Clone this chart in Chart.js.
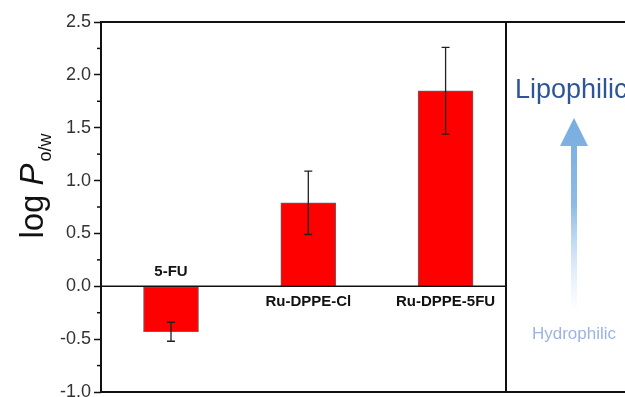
<!DOCTYPE html>
<html><head><meta charset="utf-8">
<script src="https://cdn.jsdelivr.net/npm/chart.js@4/dist/chart.umd.min.js"></script>
<style>html,body{margin:0;padding:0;background:#fff;}#wrap{width:625px;height:397px;position:relative;}</style>
</head><body><div id="wrap"><canvas id="c" width="625" height="397"></canvas></div>
<script>
const categories = ['5-FU', 'Ru-DPPE-Cl', 'Ru-DPPE-5FU'];
const positions = [1, 2, 3];
const values = [-0.43, 0.79, 1.85];
const errors = [0.09, 0.30, 0.41];
const yMin = -1.0, yMax = 2.5, yStep = 0.5;
const yTitle = 'log';
const yTitleItalic = 'P';
const yTitleSub = 'o/w';
const topNote = 'Lipophilic';
const bottomNote = 'Hydrophilic';

const overlay = {
  id: 'overlay',
  afterDatasetsDraw(chart) {
    const ctx = chart.ctx, a = chart.chartArea;
    const xs = chart.scales.x, ys = chart.scales.y;
    ctx.save();
    // error bars
    ctx.strokeStyle = '#222'; ctx.lineWidth = 1.3;
    values.forEach((v, i) => {
      const x = xs.getPixelForValue(positions[i]);
      const y1 = ys.getPixelForValue(v + errors[i]);
      const y2 = ys.getPixelForValue(v - errors[i]);
      ctx.beginPath();
      ctx.moveTo(x, y1); ctx.lineTo(x, y2);
      ctx.moveTo(x - 4, y1); ctx.lineTo(x + 4, y1);
      ctx.moveTo(x - 4, y2); ctx.lineTo(x + 4, y2);
      ctx.stroke();
    });
    // zero line
    const y0 = ys.getPixelForValue(0);
    ctx.strokeStyle = '#111'; ctx.lineWidth = 1.6;
    ctx.beginPath(); ctx.moveTo(a.left, y0); ctx.lineTo(a.right, y0); ctx.stroke();
    // category labels
    ctx.fillStyle = '#111'; ctx.font = 'bold 15px Arial, "Liberation Sans", sans-serif';
    ctx.textAlign = 'center'; ctx.textBaseline = 'middle';
    values.forEach((v, i) => {
      const x = xs.getPixelForValue(positions[i]);
      ctx.fillText(categories[i], x, v < 0 ? y0 - 14 : y0 + 16);
    });
    // frame
    ctx.strokeStyle = '#111'; ctx.lineWidth = 2;
    ctx.beginPath();
    ctx.moveTo(a.left, a.top); ctx.lineTo(chart.width + 5, a.top);
    ctx.moveTo(a.left, a.bottom); ctx.lineTo(chart.width + 5, a.bottom);
    ctx.moveTo(a.left, a.top - 1); ctx.lineTo(a.left, a.bottom + 1);
    ctx.moveTo(a.right, a.top - 1); ctx.lineTo(a.right, a.bottom + 1);
    ctx.stroke();
    // minor ticks
    ctx.lineWidth = 1.5;
    for (let t = yMin + yStep / 2; t < yMax; t += yStep) {
      const y = ys.getPixelForValue(t);
      ctx.beginPath(); ctx.moveTo(a.left - 4, y); ctx.lineTo(a.left, y); ctx.stroke();
    }
    // y title
    ctx.save();
    ctx.translate(43, 186);
    ctx.rotate(-Math.PI / 2);
    ctx.fillStyle = '#111'; ctx.textBaseline = 'alphabetic'; ctx.textAlign = 'left';
    ctx.font = '33px Arial, "Liberation Sans", sans-serif';
    const w1 = ctx.measureText(yTitle + ' ').width;
    ctx.font = 'italic 33px Arial, "Liberation Sans", sans-serif';
    const w2 = ctx.measureText(yTitleItalic).width;
    ctx.font = '18px Arial, "Liberation Sans", sans-serif';
    const w3 = ctx.measureText(yTitleSub).width;
    const total = w1 + w2 + w3 + 2;
    let xx = -total / 2;
    ctx.font = '33px Arial, "Liberation Sans", sans-serif';
    ctx.fillText(yTitle + ' ', xx, 0); xx += w1;
    ctx.font = 'italic 33px Arial, "Liberation Sans", sans-serif';
    ctx.fillText(yTitleItalic, xx, 0); xx += w2 + 2;
    ctx.font = '18px Arial, "Liberation Sans", sans-serif';
    ctx.fillText(yTitleSub, xx, 8);
    ctx.restore();
    // right panel
    const ax = 574;
    ctx.fillStyle = '#2e5597'; ctx.textAlign = 'left'; ctx.textBaseline = 'alphabetic';
    ctx.font = '27px Arial, "Liberation Sans", sans-serif';
    ctx.fillText(topNote, 515, 98);
    const g = ctx.createLinearGradient(0, 118, 0, 312);
    g.addColorStop(0, '#78ade0'); g.addColorStop(0.45, '#8dbbe6'); g.addColorStop(1, 'rgba(200,222,245,0)');
    ctx.fillStyle = g;
    ctx.beginPath();
    ctx.moveTo(ax, 118); ctx.lineTo(ax + 14, 146); ctx.lineTo(ax + 3, 146);
    ctx.lineTo(ax + 3, 312); ctx.lineTo(ax - 3, 312); ctx.lineTo(ax - 3, 146);
    ctx.lineTo(ax - 14, 146); ctx.closePath(); ctx.fill();
    ctx.fillStyle = '#9db3e6'; ctx.textAlign = 'center'; ctx.textBaseline = 'middle';
    ctx.font = '17px Arial, "Liberation Sans", sans-serif';
    ctx.fillText(bottomNote, ax, 334);
    ctx.restore();
  }
};

new Chart(document.getElementById('c'), {
  type: 'bar',
  data: {
    datasets: [{
      data: positions.map((p, i) => ({ x: p, y: values[i] })),
      backgroundColor: '#ff0000',
      borderColor: '#666',
      borderWidth: 1,
      barThickness: 55,
      borderSkipped: false
    }]
  },
  options: {
    responsive: false,
    animation: false,
    events: [],
    layout: { padding: { top: 22, right: 119, bottom: 5, left: 0 } },
    plugins: { legend: { display: false }, tooltip: { enabled: false } },
    scales: {
      x: { type: 'linear', min: 0.49, max: 3.44, display: false, offset: false },
      y: {
        min: yMin, max: yMax,
        ticks: { stepSize: yStep, color: '#333', padding: 3,
          font: { size: 18, family: 'Arial, "Liberation Sans", sans-serif' },
          callback: v => v.toFixed(1) },
        grid: { drawOnChartArea: false, tickLength: 7, tickWidth: 1.5, tickColor: '#111' },
        border: { display: false },
        afterFit: s => { s.width = 101; s.paddingTop = 0; s.paddingBottom = 0; }
      }
    }
  },
  plugins: [overlay]
});
</script></body></html>
